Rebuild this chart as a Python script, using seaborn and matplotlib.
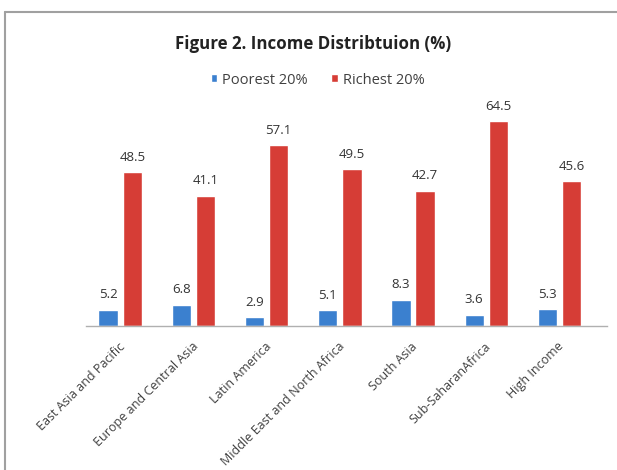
import numpy as np
import pandas as pd
import seaborn as sns
import matplotlib.pyplot as plt
import matplotlib.transforms as mtransforms
from matplotlib.lines import Line2D

# data
regions = ['East Asia and Pacific', 'Europe and Central Asia', 'Latin America',
           'Middle East and North Africa', 'South Asia', 'Sub-SaharanAfrica', 'High Income']
poorest = [5.2, 6.8, 2.9, 5.1, 8.3, 3.6, 5.3]
richest = [48.5, 41.1, 57.1, 49.5, 42.7, 64.5, 45.6]
series = ['Poorest 20%', 'Richest 20%']

df = pd.DataFrame({
    'region': regions * 2,
    'share': poorest + richest,
    'group': [series[0]] * len(regions) + [series[1]] * len(regions),
})

sns.set_style('white')
plt.rcParams['font.family'] = ['Open Sans', 'DejaVu Sans']

fig = plt.figure(figsize=(6.17, 4.70), dpi=100)
ax = fig.add_axes([0.139, 0.306, 0.845, 0.473])

colors = {'Poorest 20%': '#3b80cf', 'Richest 20%': '#d63d36'}
sns.barplot(data=df, x='region', y='share', hue='group', palette=colors, saturation=1,
            width=0.66, gap=0.2, ax=ax, legend=True)

for c in ax.containers:
    ax.bar_label(c, fmt='%.1f', padding=6, fontsize=9.5, color='#333333')

ax.set_ylim(0, 70)
ax.set_xlim(-0.47, 6.65)
ax.set_xlabel('')
ax.set_ylabel('')
ax.set_yticks([])
for s in ['top', 'right', 'left']:
    ax.spines[s].set_visible(False)
ax.spines['bottom'].set_color('#b0b0b0')
ax.spines['bottom'].set_linewidth(1.0)
ax.tick_params(axis='x', length=0, pad=10)
shift = mtransforms.ScaledTranslation(-2 / 100, 0, fig.dpi_scale_trans)
for lab in ax.get_xticklabels():
    lab.set_rotation(45)
    lab.set_ha('right')
    lab.set_rotation_mode('anchor')
    lab.set_fontsize(9)
    lab.set_color('#404040')
    lab.set_transform(lab.get_transform() + shift)

ax.legend(loc='center', bbox_to_anchor=(0.515, 1 - 80 / 470), bbox_transform=fig.transFigure,
          ncol=2, frameon=False, fontsize=10.5, handlelength=0.45, handleheight=0.5,
          handletextpad=0.35, columnspacing=1.6, labelcolor='#404040')

fig.text(0.507, 1 - 44 / 470, 'Figure 2. Income Distribtuion (%)', ha='center', va='center',
         fontsize=12.2, fontweight='bold', color='#222222')

# chart frame (only left and top edges show in the crop)
fig.add_artist(Line2D([5 / 617, 5 / 617], [0, 1 - 12 / 470], color='#a0a0a0', lw=1.5,
                      transform=fig.transFigure))
fig.add_artist(Line2D([5 / 617, 1], [1 - 12 / 470, 1 - 12 / 470], color='#a0a0a0', lw=1.5,
                      transform=fig.transFigure))

fig.savefig('out.png', dpi=100)
